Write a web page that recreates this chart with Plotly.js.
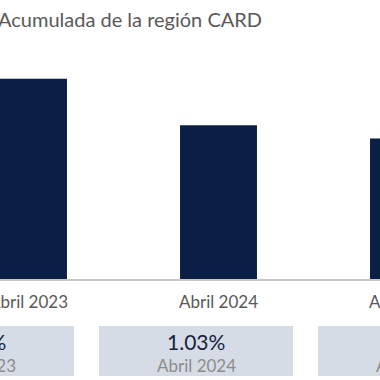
<!DOCTYPE html>
<html>
<head>
<meta charset="utf-8">
<script src="https://cdn.plot.ly/plotly-3.0.1.min.js"></script>
<style>
html, body { margin:0; padding:0; overflow:hidden; width:380px; height:380px; background:#fff; }
#wrap { position:absolute; left:-190px; top:0; width:760px; height:380px; }
</style>
</head>
<body>
<div id="wrap"></div>
<script>
// Data
const categories = ["Abril 2023", "Abril 2024", "Abril 2025"];
const values = [1.34, 1.03, 0.94];
const boxLabels = ["Abril 2023", "Abril 2024", "Abril 2025"];
const titleText = "Acumulada de la región CARD";

const W = 760, H = 380;
const plotTop = 40, plotBottom = 279;
const ph = plotBottom - plotTop;
const py = p => (plotBottom - p) / ph;

const boxX = [[69, 264], [289, 483], [508, 702]];
const shapes = [];
const annotations = [];
boxX.forEach((b, i) => {
  shapes.push({type:'rect', xref:'paper', yref:'paper', x0:b[0]/W, x1:b[1]/W, y0:py(376), y1:py(326),
    fillcolor:'#d6dce5', line:{width:0}, layer:'below'});
  const cx = (b[0]+b[1])/2/W;
  annotations.push({xref:'paper', yref:'paper', x:cx, y:py(341), yanchor:'middle', xanchor:'center',
    text: values[i].toFixed(2) + '%', showarrow:false, font:{family:'Lato', size:21, color:'#18233d'}});
  annotations.push({xref:'paper', yref:'paper', x:cx, y:py(365), yanchor:'middle', xanchor:'center',
    text: boxLabels[i], showarrow:false, font:{family:'Lato', size:17, color:'#8c8c8c'}});
});

Plotly.newPlot('wrap', [{
  type:'bar', x:[0,1,2], y:values, width:0.405,
  marker:{color:'#0b1f45', line:{width:0}}, hoverinfo:'none'
}], {
  width:W, height:H,
  margin:{l:0, r:0, t:plotTop, b:H-plotBottom, pad:0},
  paper_bgcolor:'#fff', plot_bgcolor:'#fff',
  showlegend:false,
  title:{text:titleText, xref:'paper', x:188/W, xanchor:'left', yref:'container', y:1-20/H, yanchor:'middle',
    font:{family:'Lato', size:20, color:'#595959'}},
  xaxis:{range:[-1.15, 2.85], tickmode:'array', tickvals:[0,1,2], ticktext:categories,
    showline:true, linecolor:'#c8c8c8', linewidth:1.5, ticks:'', showgrid:false, zeroline:false,
    ticklabelstandoff:7,
    tickfont:{family:'Lato', size:17, color:'#595959'}, fixedrange:true},
  yaxis:{range:[0,1.6], visible:false, showgrid:false, zeroline:false, fixedrange:true},
  shapes:shapes, annotations:annotations
}, {displayModeBar:false, staticPlot:true});
</script>
</body>
</html>
